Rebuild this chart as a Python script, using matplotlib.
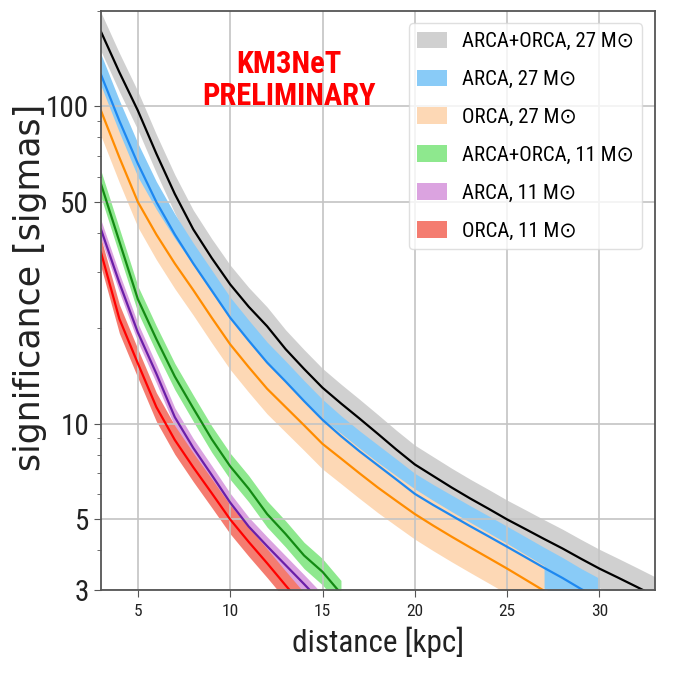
import matplotlib.pyplot as plt
import numpy as np
from matplotlib.patches import Patch
from matplotlib.ticker import LogLocator, NullFormatter

plt.rcParams["font.family"] = ["Roboto Condensed", "DejaVu Sans"]

# distance grids [kpc]
dist_27_all = np.arange(3, 34)  # 3..33
dist_27_arca = np.arange(3, 31)  # 3..30
dist_27_orca = np.arange(3, 28)  # 3..27
dist_11_all = np.arange(3, 17)  # 3..16
dist_11_arca = np.arange(3, 16)  # 3..15
dist_11_orca = np.arange(3, 15)  # 3..14

# significance [sigmas]
sig_27_all = [172, 128, 97, 71, 53, 41, 33.3, 27.5, 23.4, 20.3, 17.2, 14.9, 13.0,
              11.6, 10.4, 9.3, 8.3, 7.45, 6.85, 6.3, 5.82, 5.4, 5.0, 4.66, 4.34,
              4.05, 3.76, 3.5, 3.28, 3.07, 2.87]
sig_27_arca = [126, 90, 66, 50, 39.5, 32.0, 26.3, 21.6, 18.3, 15.6, 13.6, 11.8, 10.3,
               9.15, 8.2, 7.4, 6.68, 6.02, 5.55, 5.14, 4.76, 4.42, 4.1, 3.8, 3.52,
               3.27, 3.02, 2.81]
sig_27_orca = [97, 69, 50, 39.5, 32, 26.4, 21.6, 17.8, 15.1, 12.9, 11.3, 9.9, 8.65,
               7.78, 6.99, 6.3, 5.72, 5.2, 4.78, 4.41, 4.08, 3.78, 3.5, 3.23, 2.98]
sig_11_all = [57, 37.5, 24.7, 18.5, 14.1, 11.2, 8.95, 7.35, 6.25, 5.2, 4.5, 3.85,
              3.42, 2.92]
sig_11_arca = [41, 27.8, 19.4, 14.4, 10.5, 8.4, 6.9, 5.65, 4.75, 4.12, 3.59, 3.13,
               2.72]
sig_11_orca = [34.7, 21.4, 15.5, 11.3, 8.9, 7.3, 6.05, 5.0, 4.25, 3.64, 3.1, 2.65]

# relative half-width of the uncertainty bands
band_27_all = 0.15
band_27_arca = 0.16
band_27_orca = 0.2
band_11_all = 0.1
band_11_arca = 0.07
band_11_orca = 0.11

labels = ["ARCA+ORCA, 27 M\u2299", "ARCA, 27 M\u2299", "ORCA, 27 M\u2299",
          "ARCA+ORCA, 11 M\u2299", "ARCA, 11 M\u2299", "ORCA, 11 M\u2299"]

series = [
    (dist_27_all, sig_27_all, band_27_all, "#d0d0d0", "black"),
    (dist_27_arca, sig_27_arca, band_27_arca, "#89cbf7", "#1e88f0"),
    (dist_27_orca, sig_27_orca, band_27_orca, "#fdd8b5", "#ff8c00"),
    (dist_11_all, sig_11_all, band_11_all, "#8ee88e", "#138a13"),
    (dist_11_arca, sig_11_arca, band_11_arca, "#dba3e0", "#6a1fa8"),
    (dist_11_orca, sig_11_orca, band_11_orca, "#f47c70", "red"),
]

fig = plt.figure(figsize=(6.73, 6.78), dpi=100)
ax = fig.add_axes([0.150, 0.130, 0.823, 0.854])

# bands first, then the central lines on top
for d, s, rel, fc, lc in series:
    s = np.array(s)
    ax.fill_between(d, s / (1 + rel), s * (1 + rel), color=fc, lw=0)
for d, s, rel, fc, lc in series:
    ax.plot(d, s, color=lc, lw=1.6)

ax.set_yscale("log")
ax.set_xlim(3, 33)
ax.set_ylim(3, 200)
ax.set_yticks([3, 5, 10, 50, 100])
ax.set_yticklabels(["3", "5", "10", "50", "100"])
ax.yaxis.set_minor_locator(LogLocator(base=10, subs=np.arange(2, 10)))
ax.yaxis.set_minor_formatter(NullFormatter())
ax.set_xticks([5, 10, 15, 20, 25, 30])

ax.grid(True, which="major", color="#c4c4c4", lw=1.2)
ax.tick_params(axis="y", which="major", labelsize=21, length=5, color="#555", labelcolor="#222")
ax.tick_params(axis="y", which="minor", length=3, color="#555")
ax.tick_params(axis="x", labelsize=12.5, length=5, pad=5, color="#555", labelcolor="#222")
for sp in ax.spines.values():
    sp.set_color("#555")
    sp.set_linewidth(1.3)

ax.set_xlabel("distance [kpc]", fontsize=22.5, color="#222", labelpad=6)
ax.set_ylabel("significance [sigmas]", fontsize=25, color="#222",
              family=["DejaVu Sans"])
ax.yaxis.set_label_coords(-0.097, 0.523)

ax.text(0.339, 0.881, "KM3NeT\nPRELIMINARY", transform=ax.transAxes,
        color="red", fontweight="bold", fontsize=22, ha="center", va="center",
        linespacing=1.1)

handles = [Patch(facecolor=fc, edgecolor="none") for _, _, _, fc, _ in series]
ax.legend(handles, labels, loc="upper right", fontsize=15, framealpha=0.8,
          edgecolor="#d8d8d8", handlelength=1.45, handleheight=0.85,
          borderaxespad=0.6, labelspacing=0.88, handletextpad=0.7)

fig.savefig("out.png", dpi=100)
